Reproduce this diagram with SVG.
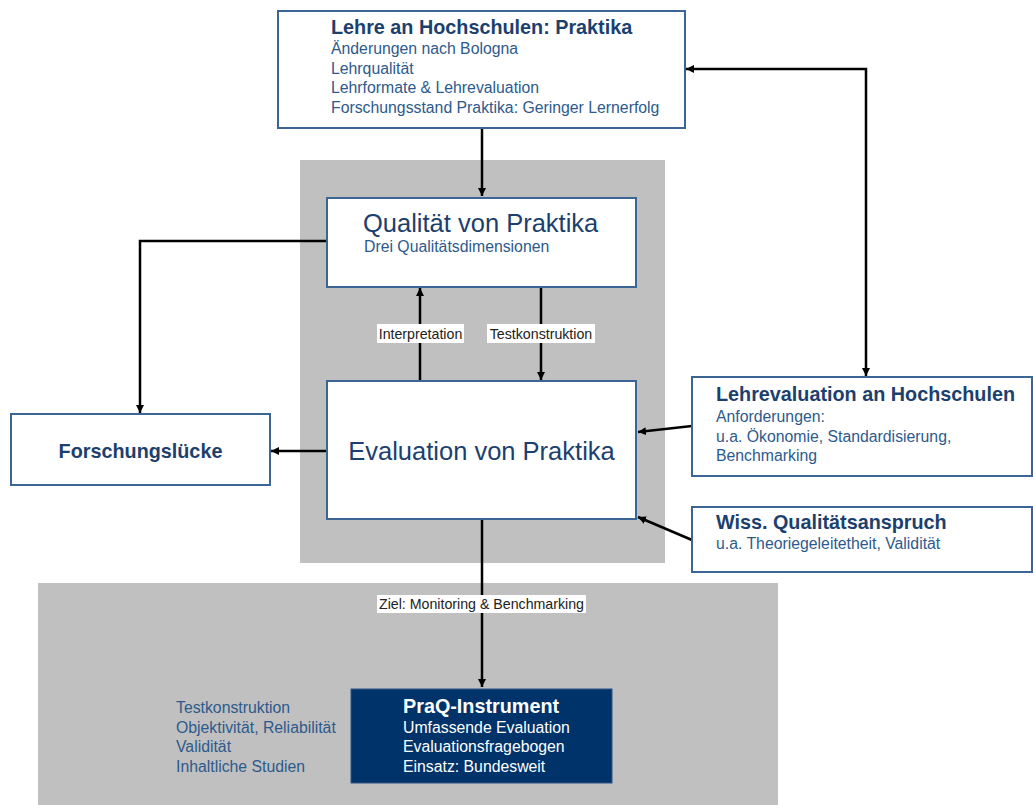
<svg xmlns="http://www.w3.org/2000/svg" width="1033" height="805" viewBox="0 0 1033 805">
<defs>
<marker id="ah" viewBox="0 0 10 10" refX="10" refY="5" markerWidth="8" markerHeight="8" orient="auto-start-reverse" markerUnits="userSpaceOnUse">
<path d="M0,0 L10,5 L0,10 z" fill="#000"/>
</marker>
<style>
.box{fill:#fff;stroke:#3b6594;stroke-width:2}
.h{font-family:"Liberation Sans",Arial,sans-serif;font-weight:bold;fill:#1c3f6e;font-size:19.8px}
.t{font-family:"Liberation Sans",Arial,sans-serif;fill:#2d5a8c;font-size:15.8px}
.c{stroke:#000;stroke-width:2.5;fill:none;marker-end:url(#ah)}
.lbl{font-family:"Liberation Sans",Arial,sans-serif;font-size:14.2px;fill:#222}
.n{font-family:"Liberation Sans",Arial,sans-serif;font-size:15.8px;fill:#fff}
</style>
</defs>
<rect width="1033" height="805" fill="#fff"/>
<rect x="300" y="160" width="365" height="403" fill="#c0c0c0"/>
<rect x="38" y="583" width="740" height="222" fill="#c0c0c0"/>

<g id="connectors">
<line class="c" x1="482" y1="128" x2="482" y2="196"/>
<path class="c" d="M327,241 H140 V413"/>
<line class="c" x1="327" y1="451" x2="271" y2="451"/>
<line class="c" x1="420" y1="381" x2="420" y2="288"/>
<line class="c" x1="541" y1="287" x2="541" y2="380"/>
<path class="c" style="marker-start:url(#ah)" d="M686,69 H866 V376"/>
<line class="c" x1="692" y1="426" x2="638" y2="432"/>
<line class="c" x1="692" y1="540" x2="638" y2="517"/>
<line class="c" x1="482" y1="519" x2="482" y2="687"/>
<rect x="377" y="324" width="87" height="19" fill="#fff"/>
<text class="lbl" x="420.5" y="339" text-anchor="middle">Interpretation</text>
<rect x="487" y="324" width="108" height="19" fill="#fff"/>
<text class="lbl" x="541" y="339" text-anchor="middle">Testkonstruktion</text>
<rect x="377" y="595" width="209" height="18" fill="#fff"/>
<text class="lbl" x="481.5" y="609" text-anchor="middle">Ziel: Monitoring &amp; Benchmarking</text>
</g>

<g id="lehre">
<rect class="box" x="278" y="11" width="407" height="117"/>
<text class="h" x="331" y="34">Lehre an Hochschulen: Praktika</text>
<text class="t" x="331" y="54">Änderungen nach Bologna</text>
<text class="t" x="331" y="74">Lehrqualität</text>
<text class="t" x="331" y="93">Lehrformate &amp; Lehrevaluation</text>
<text class="t" x="331" y="113">Forschungsstand Praktika: Geringer Lernerfolg</text>
</g>

<g id="qualitaet">
<rect class="box" x="327" y="198" width="309" height="89"/>
<text x="363" y="232" font-family="Liberation Sans,Arial,sans-serif" font-size="25.5" fill="#1c3f6e">Qualität von Praktika</text>
<text class="t" x="364" y="252">Drei Qualitätsdimensionen</text>
</g>

<g id="evaluation">
<rect class="box" x="327" y="381" width="309" height="138"/>
<text x="481.5" y="460" text-anchor="middle" font-family="Liberation Sans,Arial,sans-serif" font-size="25.5" fill="#1c3f6e">Evaluation von Praktika</text>
</g>

<g id="forschungsluecke">
<rect class="box" x="11" y="414" width="259" height="71"/>
<text class="h" x="140.5" y="458" text-anchor="middle">Forschungslücke</text>
</g>

<g id="lehrevaluation">
<rect class="box" x="692" y="377" width="340" height="99"/>
<text class="h" x="716" y="401">Lehrevaluation an Hochschulen</text>
<text class="t" x="716" y="422">Anforderungen:</text>
<text class="t" x="716" y="442">u.a. Ökonomie, Standardisierung,</text>
<text class="t" x="716" y="461">Benchmarking</text>
</g>

<g id="wiss">
<rect class="box" x="692" y="507" width="340" height="65"/>
<text class="h" x="716" y="529">Wiss. Qualitätsanspruch</text>
<text class="t" x="716" y="549">u.a. Theoriegeleitetheit, Validität</text>
</g>

<g id="praq">
<rect x="351" y="689" width="261" height="94" fill="#00336a" stroke="#2c5585" stroke-width="1"/>
<text x="403" y="713" font-family="Liberation Sans,Arial,sans-serif" font-weight="bold" font-size="19.8" fill="#fff">PraQ-Instrument</text>
<text class="n" x="403" y="733">Umfassende Evaluation</text>
<text class="n" x="403" y="752">Evaluationsfragebogen</text>
<text class="n" x="403" y="772">Einsatz: Bundesweit</text>
</g>

<g id="testkonstruktion">
<text class="t" x="176" y="713">Testkonstruktion</text>
<text class="t" x="176" y="733">Objektivität, Reliabilität</text>
<text class="t" x="176" y="752">Validität</text>
<text class="t" x="176" y="772">Inhaltliche Studien</text>
</g>
</svg>
